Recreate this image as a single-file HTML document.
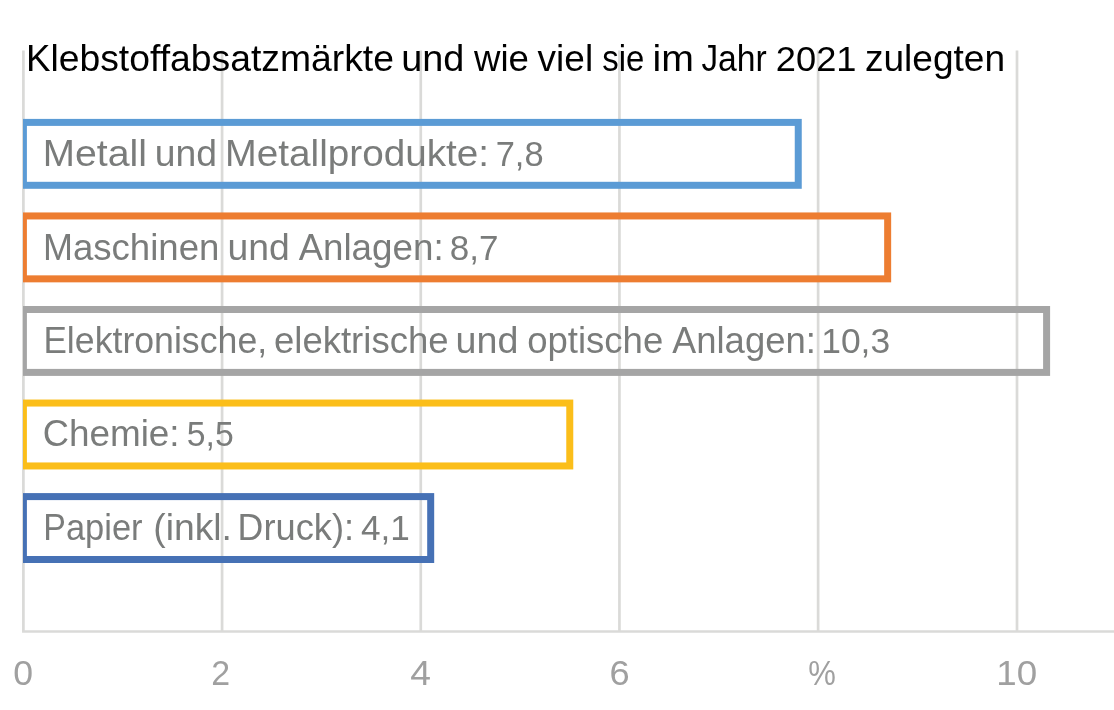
<!DOCTYPE html>
<html lang="de"><head><meta charset="utf-8"><title>Klebstoffabsatzmärkte</title>
<style>
html,body{margin:0;padding:0;background:#fff;}
body{width:1114px;height:710px;overflow:hidden;}
svg{display:block;}
text{font-family:"Liberation Sans",sans-serif;white-space:pre;}
.t{fill:#000;}
.l{fill:#7a7c7b;}
.a{fill:#a0a0a0;}
</style></head><body>
<svg width="1114" height="710" viewBox="0 0 1114 710">
<defs><clipPath id="pc"><rect x="23" y="0" width="1100" height="710"/></clipPath></defs>
<rect width="1114" height="710" fill="#fff"/>
<g stroke="#dadad8" stroke-width="2.7">
<line x1="23.40" y1="50.4" x2="23.40" y2="631.5"/>
<line x1="222.08" y1="50.4" x2="222.08" y2="631.5"/>
<line x1="420.76" y1="50.4" x2="420.76" y2="631.5"/>
<line x1="619.44" y1="50.4" x2="619.44" y2="631.5"/>
<line x1="818.12" y1="50.4" x2="818.12" y2="631.5"/>
<line x1="1017.00" y1="50.4" x2="1017.00" y2="631.5"/>
<line x1="22.05" y1="631.45" x2="1114" y2="631.45" stroke-width="2.5"/>
</g>
<g fill="none" stroke-width="7" clip-path="url(#pc)">
<rect x="23.40" y="122.40" width="774.85" height="62.9" stroke="#5b9bd5"/>
<rect x="23.40" y="215.95" width="864.26" height="62.9" stroke="#ed7d31"/>
<rect x="23.40" y="309.50" width="1023.20" height="62.9" stroke="#a5a5a5"/>
<rect x="23.40" y="403.05" width="546.37" height="62.9" stroke="#fbbe1a"/>
<rect x="23.40" y="496.60" width="407.29" height="62.9" stroke="#4671b5"/>
</g>
<text class="t" y="70.8" font-size="37.3"><tspan x="25.93" textLength="24.49" lengthAdjust="spacingAndGlyphs" font-size="36.7">K</tspan><tspan x="50.42" textLength="343.59" lengthAdjust="spacingAndGlyphs">lebstoffabsatzmärkte</tspan> <tspan x="401.24" textLength="63.09" lengthAdjust="spacingAndGlyphs">und</tspan> <tspan x="474.07" textLength="54.91" lengthAdjust="spacingAndGlyphs">wie</tspan> <tspan x="537.60" textLength="55.54" lengthAdjust="spacingAndGlyphs">viel</tspan> <tspan x="602.19" textLength="42.05" lengthAdjust="spacingAndGlyphs">sie</tspan> <tspan x="652.55" textLength="41.38" lengthAdjust="spacingAndGlyphs">im</tspan> <tspan x="701.48" textLength="16.58" lengthAdjust="spacingAndGlyphs" font-size="36.7">J</tspan><tspan x="718.06" textLength="48.70" lengthAdjust="spacingAndGlyphs">ahr</tspan> <tspan x="775.80" textLength="80.67" lengthAdjust="spacingAndGlyphs" font-size="35.8">2021</tspan> <tspan x="864.94" textLength="140.14" lengthAdjust="spacingAndGlyphs">zulegten</tspan></text>
<text class="l" y="166.0" font-size="37.3"><tspan x="42.78" textLength="32.18" lengthAdjust="spacingAndGlyphs" font-size="36.7">M</tspan><tspan x="74.96" textLength="72.03" lengthAdjust="spacingAndGlyphs">etall</tspan> <tspan x="154.67" textLength="62.23" lengthAdjust="spacingAndGlyphs">und</tspan> <tspan x="225.13" textLength="31.69" lengthAdjust="spacingAndGlyphs" font-size="36.7">M</tspan><tspan x="256.82" textLength="232.17" lengthAdjust="spacingAndGlyphs">etallprodukte:</tspan> <tspan x="495.68" textLength="47.91" lengthAdjust="spacingAndGlyphs" font-size="35.8">7,8</tspan></text>
<text class="l" y="259.6" font-size="37.3"><tspan x="42.99" textLength="29.97" lengthAdjust="spacingAndGlyphs" font-size="36.7">M</tspan><tspan x="72.96" textLength="146.39" lengthAdjust="spacingAndGlyphs">aschinen</tspan> <tspan x="227.57" textLength="62.23" lengthAdjust="spacingAndGlyphs">und</tspan> <tspan x="298.80" textLength="24.14" lengthAdjust="spacingAndGlyphs" font-size="36.7">A</tspan><tspan x="322.94" textLength="120.68" lengthAdjust="spacingAndGlyphs">nlagen:</tspan> <tspan x="449.70" textLength="48.72" lengthAdjust="spacingAndGlyphs" font-size="35.8">8,7</tspan></text>
<text class="l" y="353.0" font-size="37.3"><tspan x="43.46" textLength="23.41" lengthAdjust="spacingAndGlyphs" font-size="36.7">E</tspan><tspan x="66.87" textLength="200.29" lengthAdjust="spacingAndGlyphs">lektronische,</tspan> <tspan x="273.96" textLength="174.62" lengthAdjust="spacingAndGlyphs">elektrische</tspan> <tspan x="455.55" textLength="62.76" lengthAdjust="spacingAndGlyphs">und</tspan> <tspan x="527.16" textLength="136.12" lengthAdjust="spacingAndGlyphs">optische</tspan> <tspan x="672.30" textLength="23.94" lengthAdjust="spacingAndGlyphs" font-size="36.7">A</tspan><tspan x="696.24" textLength="119.66" lengthAdjust="spacingAndGlyphs">nlagen:</tspan> <tspan x="821.19" textLength="68.95" lengthAdjust="spacingAndGlyphs" font-size="35.8">10,3</tspan></text>
<text class="l" y="446.2" font-size="37.3"><tspan x="42.70" textLength="26.21" lengthAdjust="spacingAndGlyphs" font-size="36.7">C</tspan><tspan x="68.91" textLength="110.72" lengthAdjust="spacingAndGlyphs">hemie:</tspan> <tspan x="186.85" textLength="46.92" lengthAdjust="spacingAndGlyphs" font-size="35.8">5,5</tspan></text>
<text class="l" y="539.8" font-size="37.3"><tspan x="43.35" textLength="22.61" lengthAdjust="spacingAndGlyphs" font-size="36.7">P</tspan><tspan x="65.96" textLength="76.61" lengthAdjust="spacingAndGlyphs">apier</tspan> <tspan x="153.25" textLength="78.72" lengthAdjust="spacingAndGlyphs">(inkl.</tspan> <tspan x="237.61" textLength="25.78" lengthAdjust="spacingAndGlyphs" font-size="36.7">D</tspan><tspan x="263.39" textLength="90.69" lengthAdjust="spacingAndGlyphs">ruck):</tspan> <tspan x="361.05" textLength="48.87" lengthAdjust="spacingAndGlyphs" font-size="35.8">4,1</tspan></text>
<text class="a" y="684.7" font-size="35.2"><tspan x="13.29" textLength="19.80" lengthAdjust="spacingAndGlyphs">0</tspan> <tspan x="211.31" textLength="18.86" lengthAdjust="spacingAndGlyphs">2</tspan> <tspan x="410.22" textLength="20.71" lengthAdjust="spacingAndGlyphs">4</tspan> <tspan x="609.50" textLength="20.17" lengthAdjust="spacingAndGlyphs">6</tspan> <tspan x="808.33" textLength="27.59" lengthAdjust="spacingAndGlyphs">%</tspan> <tspan x="996.25" textLength="40.86" lengthAdjust="spacingAndGlyphs">10</tspan></text>
</svg>
</body></html>
